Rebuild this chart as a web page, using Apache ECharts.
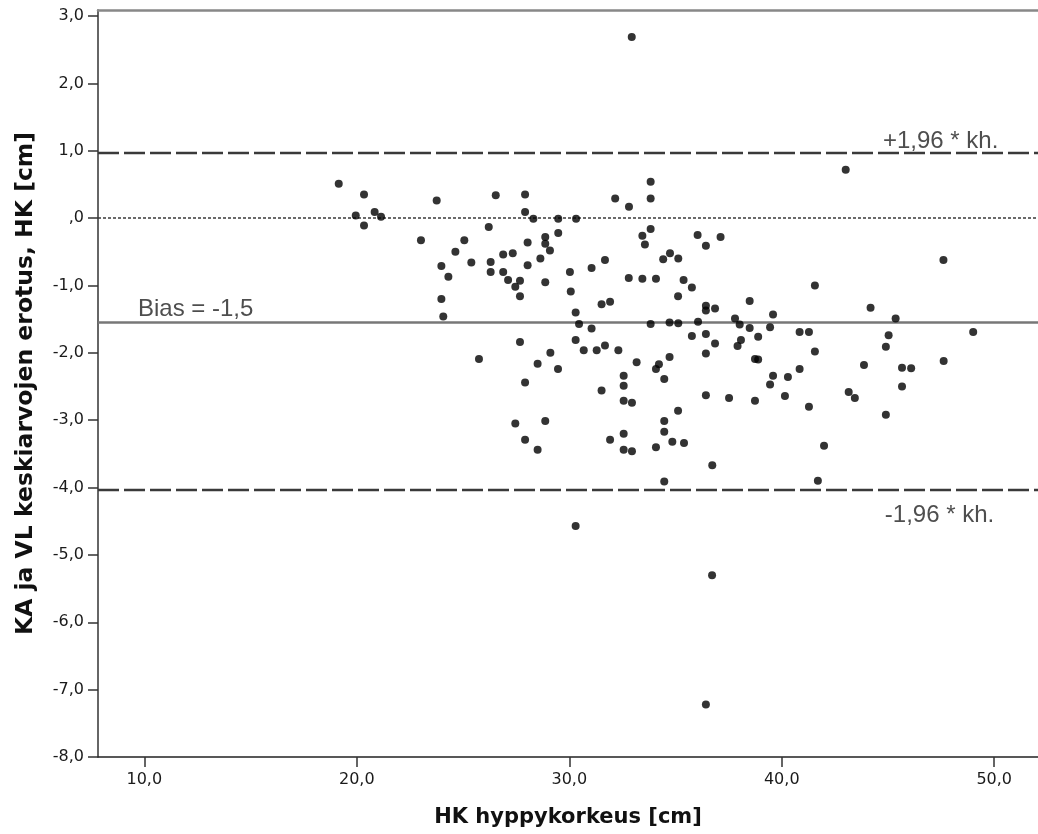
<!DOCTYPE html>
<html>
<head>
<meta charset="utf-8">
<script src="https://cdn.jsdelivr.net/npm/echarts@6/dist/echarts.min.js"></script>
<style>
html,body{margin:0;padding:0;background:#fff;}
#chart{width:1038px;height:834px;}
</style>
</head>
<body>
<div id="chart"></div>
<script>
// HK hyppykorkeus [cm] (x) and difference (y)
const hyppykorkeus = [
32.94,19.15,20.34,19.95,20.84,21.14,20.34,23.76,26.54,27.92,
27.92,28.31,29.48,30.32,26.21,23.02,25.06,24.64,28.87,28.87,
29.48,28.04,29.09,26.89,27.34,32.16,32.81,31.68,28.64,25.39,
26.30,43.01,33.83,33.83,33.83,33.44,33.56,36.04,36.43,37.12,
34.74,35.13,34.42,47.61,23.98,24.31,26.30,26.89,27.12,27.68,
27.46,27.68,28.04,28.87,30.03,30.07,31.05,32.80,23.98,24.07,
30.30,30.46,31.05,31.52,31.92,30.30,30.68,31.29,31.68,32.31,
27.68,25.75,29.11,28.51,29.47,27.92,31.52,32.56,32.56,32.56,
27.46,28.87,27.92,28.51,31.92,32.56,32.56,33.44,34.08,35.38,
35.77,35.12,36.43,36.43,36.86,38.49,39.59,37.80,38.02,38.49,
39.45,38.89,41.56,44.18,45.36,47.62,49.01,33.83,34.72,35.13,
36.06,35.77,36.43,36.86,36.43,38.08,37.92,40.84,41.28,41.56,
45.03,44.90,34.72,33.17,34.22,34.08,38.74,38.89,40.84,43.87,
45.66,46.09,34.47,39.59,40.29,39.45,32.95,36.43,37.52,38.74,
40.15,41.28,43.15,43.44,45.66,44.90,35.12,34.47,34.47,32.95,
34.08,34.85,35.40,36.73,41.99,34.47,41.70,30.30,36.72,36.43
];
const erotus = [
2.69,0.51,0.35,0.04,0.09,0.02,-0.11,0.26,0.34,0.35,
0.09,-0.01,-0.01,-0.01,-0.13,-0.33,-0.33,-0.50,-0.28,-0.38,
-0.22,-0.36,-0.48,-0.54,-0.52,0.29,0.17,-0.62,-0.60,-0.66,
-0.65,0.72,0.54,0.29,-0.16,-0.26,-0.39,-0.25,-0.41,-0.28,
-0.52,-0.60,-0.61,-0.62,-0.71,-0.87,-0.80,-0.80,-0.92,-0.93,
-1.02,-1.16,-0.70,-0.95,-0.80,-1.09,-0.74,-0.89,-1.20,-1.46,
-1.40,-1.57,-1.64,-1.28,-1.24,-1.81,-1.96,-1.96,-1.89,-1.96,
-1.84,-2.09,-2.00,-2.16,-2.24,-2.44,-2.56,-2.34,-2.49,-2.71,
-3.05,-3.01,-3.29,-3.44,-3.29,-3.20,-3.44,-0.90,-0.90,-0.92,
-1.03,-1.16,-1.30,-1.37,-1.34,-1.23,-1.43,-1.49,-1.58,-1.63,
-1.62,-1.76,-1.00,-1.33,-1.49,-2.12,-1.69,-1.57,-1.55,-1.56,
-1.54,-1.75,-1.72,-1.86,-2.01,-1.81,-1.90,-1.69,-1.69,-1.98,
-1.74,-1.91,-2.06,-2.14,-2.17,-2.24,-2.09,-2.10,-2.24,-2.18,
-2.22,-2.23,-2.39,-2.34,-2.36,-2.47,-2.74,-2.63,-2.67,-2.71,
-2.64,-2.80,-2.58,-2.67,-2.50,-2.92,-2.86,-3.01,-3.17,-3.46,
-3.40,-3.32,-3.34,-3.67,-3.38,-3.91,-3.90,-4.57,-5.30,-7.22
];
const xTicks = [10, 20, 30, 40, 50];
const yTicks = [-8, -7, -6, -5, -4, -3, -2, -1, 0, 1, 2, 3];
const biasValue = -1.536;
const upperLimit = 0.967;
const lowerLimit = -4.03;
const xLabel = 'HK hyppykorkeus [cm]';
const yLabel = 'KA ja VL keskiarvojen erotus, HK [cm]';
const annotationTexts = ['+1,96 * kh.', '-1,96 * kh.', 'Bias = -1,5'];
const annotationX = [44.76, 44.85, 9.70];
const annotationY = [upperLimit, -4.23, biasValue];
const xMin = 7.82, xMax = 52.06, yMin = -8, yMax = 3.09;

function fmt(v) {
  let s = v.toFixed(1).replace('.', ',');
  if (s === '0,0') s = ',0';
  return s;
}

const points = hyppykorkeus.map((x, i) => [x, erotus[i]]);
const annData = annotationTexts.map((t, i) => ({
  value: [annotationX[i], annotationY[i]],
  name: t,
  label: { verticalAlign: i === 1 ? 'top' : 'bottom' }
}));

const chart = echarts.init(document.getElementById('chart'), null, { renderer: 'canvas' });
const tickFont = { fontFamily: 'DejaVu Sans', fontSize: 16, color: '#1a1a1a' };
const annFont = 'Liberation Sans';

chart.setOption({
  animation: false,
  backgroundColor: '#fff',
  grid: { left: 98, right: 0, top: 10, bottom: 77, containLabel: false },
  xAxis: [{
    type: 'value', min: xMin, max: xMax,
    name: xLabel, nameLocation: 'middle', nameGap: 50,
    nameTextStyle: { fontFamily: 'DejaVu Sans', fontWeight: 'bold', fontSize: 21, color: '#111' },
    axisLine: { show: true, onZero: false, lineStyle: { color: '#222', width: 1.5 } },
    axisTick: { show: true, length: 10, customValues: xTicks, lineStyle: { color: '#333', width: 1.5 } },
    axisLabel: Object.assign({ customValues: xTicks, margin: 15, formatter: fmt }, tickFont),
    splitLine: { show: false }
  }, {
    type: 'value', position: 'top', min: xMin, max: xMax,
    axisLine: { show: true, onZero: false, lineStyle: { color: '#888', width: 2.5 } },
    axisTick: { show: false }, axisLabel: { show: false }, splitLine: { show: false }
  }],
  yAxis: {
    type: 'value', min: yMin, max: yMax,
    name: yLabel, nameLocation: 'middle', nameGap: 60, nameRotate: 90,
    nameTextStyle: { fontFamily: 'DejaVu Sans', fontWeight: 'bold', fontSize: 23.5, color: '#111' },
    axisLine: { show: true, onZero: false, lineStyle: { color: '#333', width: 1.5 } },
    axisTick: { show: true, length: 10, customValues: yTicks, lineStyle: { color: '#333', width: 1.5 } },
    axisLabel: Object.assign({ customValues: yTicks, margin: 14, formatter: fmt }, tickFont),
    splitLine: { show: false }
  },
  series: [{
    type: 'scatter',
    data: points,
    symbol: 'circle',
    symbolSize: 8,
    itemStyle: { color: '#000' },
    silent: true,
    z: 5,
    markLine: {
      silent: true, symbol: 'none', animation: false,
      label: { show: false },
      data: [
        { yAxis: upperLimit, lineStyle: { type: [21, 5], color: '#3a3a3a', width: 2.3 } },
        { yAxis: lowerLimit, lineStyle: { type: [21, 5], color: '#3a3a3a', width: 2.3 } },
        { yAxis: 0, lineStyle: { type: [3, 2], color: '#3a3a3a', width: 1.5 } },
        { yAxis: biasValue, lineStyle: { type: 'solid', color: '#777', width: 2.7 } }
      ]
    }
  }, {
    type: 'scatter',
    data: annData,
    symbolSize: 0,
    silent: true,
    z: 6,
    label: {
      show: true,
      formatter: p => p.name,
      position: [0, 0],
      align: 'left',
      verticalAlign: 'bottom',
      fontFamily: annFont,
      fontSize: 24,
      color: '#222'
    }
  }]
});
</script>
</body>
</html>
